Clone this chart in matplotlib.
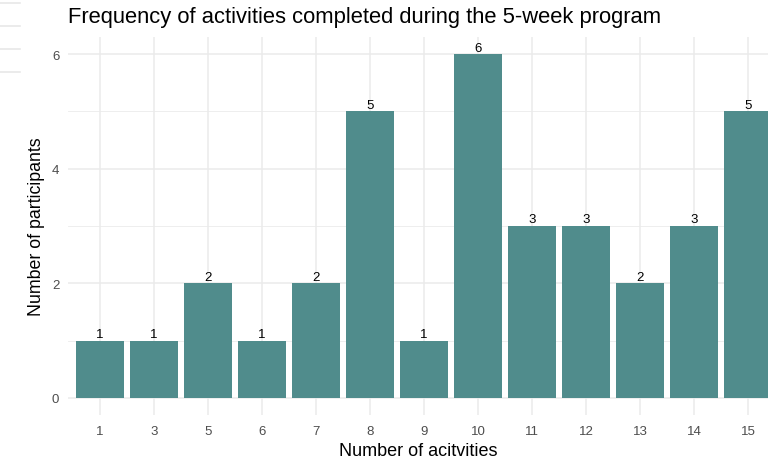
import matplotlib
matplotlib.use("Agg")
import matplotlib.pyplot as plt
from matplotlib.lines import Line2D

plt.rcParams['font.family'] = ['Liberation Sans', 'DejaVu Sans']

categories = ["1", "3", "5", "6", "7", "8", "9", "10", "11", "12", "13", "14", "15"]
counts = [1, 1, 2, 1, 2, 5, 1, 6, 3, 3, 2, 3, 5]
title = "Frequency of activities completed during the 5-week program"
xlabel = "Number of acitvities"
ylabel = "Number of participants"

W, H = 768, 460
fig = plt.figure(figsize=(W / 100, H / 100), dpi=100)
left, right, top, bottom = 67.6, 768, 38, 416
ax = fig.add_axes([left / W, 1 - bottom / H, (right - left) / W, (bottom - top) / H])

bar_color = "#508C8C"
xs = list(range(len(categories)))
ax.bar(xs, counts, width=0.9, color=bar_color, zorder=3)
for x, c in zip(xs, counts):
    ax.text(x, c + 0.01, str(c), ha='center', va='bottom', fontsize=9.5, color='black', zorder=4)

ax.set_xlim(-0.6, (right - 100) / 54)
ax.set_ylim(-0.3, 6.3)
ax.set_xticks(xs)
ax.set_xticklabels(categories)
ax.set_yticks([0, 2, 4, 6])
ax.set_yticks([1, 3, 5], minor=True)

ax.grid(True, which='major', color='#EBEBEB', linewidth=1.1, zorder=0)
ax.grid(True, which='minor', axis='y', color='#EBEBEB', linewidth=0.6, zorder=0)
for s in ax.spines.values():
    s.set_visible(False)
ax.tick_params(which='both', length=0, labelsize=9.5, colors='#4D4D4D', pad=7)
ax.tick_params(axis='y', pad=6)

ax.set_xlabel(xlabel, fontsize=13, color='black', labelpad=4)
ax.set_ylabel(ylabel, fontsize=12.8, color='black', labelpad=5)
fig.text(left / W, 1 - 18 / H, title, fontsize=15.8, color='black', ha='left', va='center')

for yy in [4, 27, 50, 73]:
    fig.add_artist(Line2D([0, 20 / W], [1 - yy / H, 1 - yy / H], color='#E5E5E5', linewidth=1.1))

fig.savefig("out.png", dpi=100)
